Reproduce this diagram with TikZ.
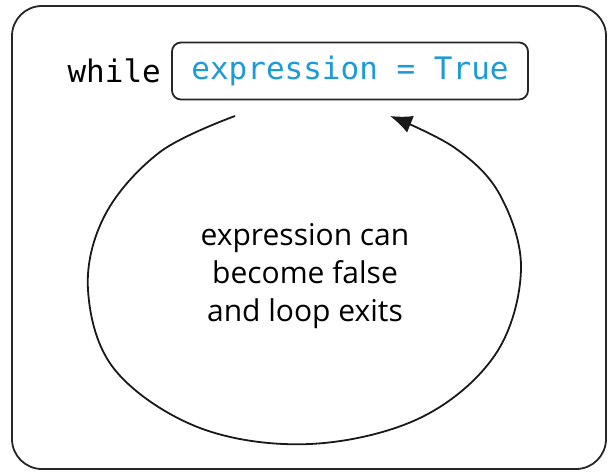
\documentclass[tikz,border=0pt]{standalone}
\usepackage{fontspec}
\setmainfont{Open Sans}
\newfontfamily\codefont{DejaVu Sans Mono}
\newfontfamily\handfont{Open Sans}
\usetikzlibrary{arrows.meta}
\definecolor{kwblue}{RGB}{28,155,214}
\begin{document}
\begin{tikzpicture}[x=1pt,y=-1pt,
  frame/.style={draw=black!85, line width=1.8pt, rounded corners=30pt},
  exprbox/.style={draw=black!85, line width=1.8pt, rounded corners=9pt, minimum width=356pt, minimum height=57pt, inner sep=0pt},
  code/.style={font=\codefont\fontsize{31}{36}\selectfont, inner sep=0pt},
  hand/.style={font=\handfont\fontsize{30}{38}\selectfont, align=center, inner sep=0pt},
  loop/.style={draw=black!90, line width=1.8pt, -{Latex[length=22pt,width=18pt]}}]
\useasboundingbox (0,0) rectangle (611,473);
\draw[frame] (12,6) rectangle (606,469);
\node[exprbox] (box) at (350,71) {};
\node[code, text=kwblue] (expr) at (box.center) {expression = True};
\node[code, anchor=east] (kw) at ([xshift=-10pt]box.west) {while};
\node[hand] (note) at (305,276) {expression can\\become false\\and loop exits};
\coordinate (start) at (235,116);
\coordinate (tip) at (390,116);
\draw[loop] plot[smooth, tension=0.6] coordinates {(start) (160,152) (105,215) (88,290) (115,370) (200,428) (310,444) (420,418) (495,355) (521,270) (500,195) (455,148) (tip)};
\end{tikzpicture}
\end{document}
